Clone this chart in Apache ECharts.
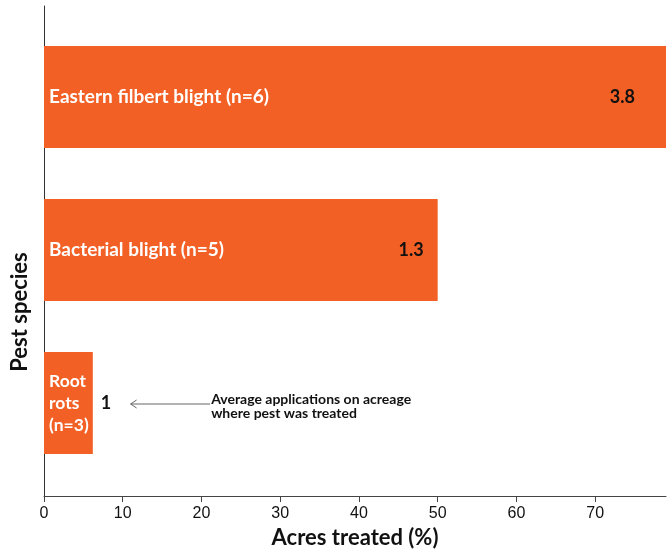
<!DOCTYPE html>
<html>
<head>
<meta charset="utf-8">
<script src="https://cdn.jsdelivr.net/npm/echarts@6/dist/echarts.min.js"></script>
<style>
  html, body { margin: 0; padding: 0; background: #fff; }
  #chart { width: 669px; height: 552px; }
</style>
</head>
<body>
<div id="chart"></div>
<script>
// Pest species, share of acreage treated and average applications per treated acre
const categories = ['Eastern filbert blight (n=6)', 'Bacterial blight (n=5)', 'Root\nrots\n(n=3)'];
const acresTreated = [79, 50, 6.2];
const applications = [3.8, 1.3, 1];
const xTicks = [0, 10, 20, 30, 40, 50, 60, 70];
const xMax = 79;

const BAR = '#F26025';
const TEXT_FONT = 'Lato, "Open Sans", sans-serif';

// value label placement per bar
const valueLabelStyles = [
  { position: 'insideRight', distance: 31 },
  { position: 'insideRight', distance: 14 },
  { position: 'right', distance: 8 }
];

const chart = echarts.init(document.getElementById('chart'));

const nameStyle = { color: '#fff', fontWeight: 'bold', fontFamily: TEXT_FONT, lineHeight: 22 };

chart.setOption({
  animation: false,
  grid: [
    { left: 44, right: 3, top: 20.5, bottom: 72.5, outerBoundsMode: 'none' },
    { left: 44, right: 3, top: 6, bottom: 56, outerBoundsMode: 'none' }
  ],
  xAxis: [
    { gridIndex: 0, type: 'value', min: 0, max: xMax, show: false },
    {
      gridIndex: 1, type: 'value', min: 0, max: xMax, interval: 10,
      name: 'Acres treated (%)', nameLocation: 'middle', nameGap: 31,
      nameTextStyle: { fontFamily: TEXT_FONT, fontWeight: 'bold', fontSize: 22, color: '#111' },
      axisLine: { show: true, lineStyle: { color: '#444', width: 1 } },
      axisTick: { show: true, length: 6, lineStyle: { color: '#444' } },
      axisLabel: {
        color: '#111', fontSize: 16, fontFamily: '"Liberation Sans", Arial, sans-serif', margin: 10,
        showMaxLabel: false,
        formatter: v => (xTicks.indexOf(v) >= 0 ? String(v) : '')
      },
      splitLine: { show: false }
    }
  ],
  yAxis: [
    {
      gridIndex: 0, type: 'category', data: categories, inverse: true, z: 10,
      axisLine: { show: false }, axisTick: { show: false },
      axisLabel: {
        inside: true, margin: 5, align: 'left',
        formatter: v => (v.indexOf('\n') >= 0 ? '{s|' + v.split('\n').join('}\n{s|') + '}' : '{n|' + v + '}'),
        rich: {
          n: Object.assign({ fontSize: 19 }, nameStyle),
          s: Object.assign({ fontSize: 17.5 }, nameStyle)
        }
      }
    },
    {
      gridIndex: 1, type: 'value', min: 0, max: 1,
      axisLine: { show: true, lineStyle: { color: '#333', width: 1 } },
      axisTick: { show: false }, axisLabel: { show: false }, splitLine: { show: false }
    }
  ],
  series: [
    {
      type: 'bar',
      xAxisIndex: 0, yAxisIndex: 0,
      barWidth: 102,
      itemStyle: { color: BAR },
      data: acresTreated.map((v, i) => ({
        value: v,
        label: Object.assign({
          show: true,
          formatter: String(applications[i]),
          color: '#111', fontWeight: 'bold', fontFamily: TEXT_FONT, fontSize: 18
        }, valueLabelStyles[i])
      }))
    }
  ]
});

// Arrow callout next to the last bar, placed in data coordinates
const last = categories[categories.length - 1];
const pStart = chart.convertToPixel({ gridIndex: 0 }, [21.1, last]);
const pEnd = chart.convertToPixel({ gridIndex: 0 }, [11.0, last]);
const y = pStart[1] + 1;
chart.setOption({
  graphic: [
    {
      type: 'line',
      shape: { x1: pStart[0], y1: y, x2: pEnd[0], y2: y },
      style: { stroke: '#666', lineWidth: 1 }
    },
    {
      type: 'polyline',
      shape: { points: [[pEnd[0] + 6, y - 4], [pEnd[0], y], [pEnd[0] + 6, y + 4]] },
      style: { stroke: '#666', lineWidth: 1, fill: null }
    },
    {
      type: 'text',
      x: pStart[0] + 1, y: y + 2,
      style: {
        text: 'Average applications on acreage\nwhere pest was treated',
        fill: '#111', font: 'bold 14px ' + TEXT_FONT, lineHeight: 14,
        verticalAlign: 'middle', align: 'left'
      }
    },
    {
      type: 'text',
      x: 20, y: 312, rotation: Math.PI / 2,
      style: {
        text: 'Pest species', fill: '#111', font: 'bold 22px ' + TEXT_FONT,
        align: 'center', verticalAlign: 'middle'
      }
    }
  ]
});
</script>
</body>
</html>
